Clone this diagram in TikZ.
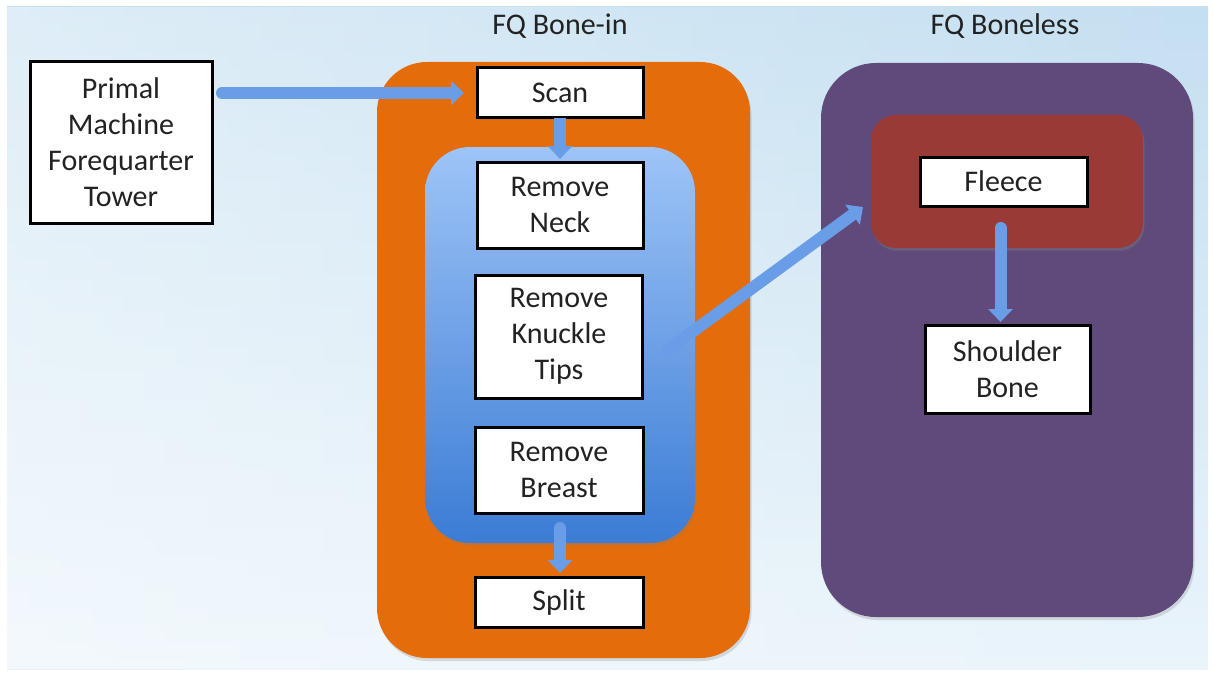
\documentclass[tikz,border=0pt]{standalone}
\usepackage{fontspec}
\setmainfont{Carlito}
\usetikzlibrary{arrows.meta,shadows,calc,fadings}
\definecolor{bgtop}{HTML}{C4DFF1}
\definecolor{bgbot}{HTML}{EAF4FB}
\definecolor{orangep}{HTML}{E46C0A}
\definecolor{purplep}{HTML}{604A7B}
\definecolor{redp}{HTML}{993A37}
\definecolor{bluetop}{HTML}{9EC4F7}
\definecolor{bluebot}{HTML}{3B7CD5}
\definecolor{arrowblue}{HTML}{6A9DE8}
\definecolor{txt}{HTML}{222222}
\tikzfading[name=bgfade, left color=transparent!55, right color=transparent!100]
\tikzset{
  panel/.style={rectangle, inner sep=0pt, outer sep=0pt, draw=none,
    drop shadow={opacity=0.25, shadow xshift=1.5pt, shadow yshift=-3pt}},
  stepbox/.style={rectangle, draw=black, line width=3pt, fill=white, inner sep=0pt,
    outer sep=0pt, align=center, text=txt, font=\fontsize{30}{36}\selectfont,
    drop shadow={opacity=0.25, shadow xshift=1.5pt, shadow yshift=-2pt}},
  title/.style={text=txt, font=\fontsize{30}{36}\selectfont, inner sep=0pt},
  flow/.style={draw=arrowblue, line width=12pt, line cap=round,
    -{Triangle[length=13pt,width=24pt]}},
}
\begin{document}
\begin{tikzpicture}[x=1pt,y=-1pt]
\useasboundingbox (0,0) rectangle (1214,674);
\fill[white] (0,0) rectangle (1214,674);
\shade[top color=bgtop, bottom color=bgbot] (7,7) rectangle (1208,669);
\fill[white, path fading=bgfade] (7,7) rectangle (1208,669);

% panels
\node[panel, fill=orangep, rounded corners=50pt, minimum width=373pt, minimum height=596pt]
  (orange) at (563.5,360) {};
\node[panel, top color=bluetop, bottom color=bluebot, rounded corners=45pt,
  minimum width=270pt, minimum height=396pt] (bluep) at (560,345) {};
\node[panel, fill=purplep, rounded corners=55pt, minimum width=372pt, minimum height=554pt]
  (purple) at (1007,340) {};
\node[panel, fill=redp, rounded corners=25pt, minimum width=272pt, minimum height=133pt,
  drop shadow={opacity=0.2, shadow xshift=1pt, shadow yshift=-2pt}]
  (red) at (1007,181.5) {};

% titles
\node[title] (t1) at (560,26) {FQ Bone-in};
\node[title] (t2) at (1005,26) {FQ Boneless};

% boxes
\node[stepbox, minimum width=182pt, minimum height=161pt] (primal) at (121,142.5)
  {Primal\\Machine\\Forequarter\\Tower};
\node[stepbox, minimum width=166pt, minimum height=50pt] (scan) at (560,93) {Scan};
\node[stepbox, minimum width=166pt, minimum height=86pt] (neck) at (560,205) {Remove\\Neck};
\node[stepbox, minimum width=167pt, minimum height=123pt] (knuckle) at (559,336.5)
  {Remove\\Knuckle\\Tips};
\node[stepbox, minimum width=168pt, minimum height=86pt] (breast) at (559,470)
  {Remove\\Breast};
\node[stepbox, minimum width=168pt, minimum height=50pt] (split) at (559,602) {Split};
\node[stepbox, minimum width=167pt, minimum height=49pt] (fleece) at (1003.5,181.5) {Fleece};
\node[stepbox, minimum width=165pt, minimum height=88pt] (shoulder) at (1007.5,369)
  {Shoulder\\Bone};

% connectors
\coordinate (pstart) at ($(primal.east |- scan.west)+(10,0)$);
\draw[flow] (pstart) -- ($(scan.west)+(-13,0)$);
\draw[flow, line cap=butt] (scan.south) -- ($(neck.north)+(0,-3)$);
\coordinate (bstart) at ($(bluep.south)+(0,-15)$);
\draw[flow] (bstart) -- ($(bstart |- split.north)+(0,-4)$);
\coordinate (dstart) at ($(knuckle.east)+(25,13.5)$);
\coordinate (dend) at ($(red.west)+(-8,25.5)$);
\draw[flow] (dstart) -- (dend);
\coordinate (fstart) at ($(fleece.south)+(-3,22)$);
\draw[flow] (fstart) -- ($(fstart |- shoulder.north)+(0,-3)$);
\end{tikzpicture}
\end{document}
